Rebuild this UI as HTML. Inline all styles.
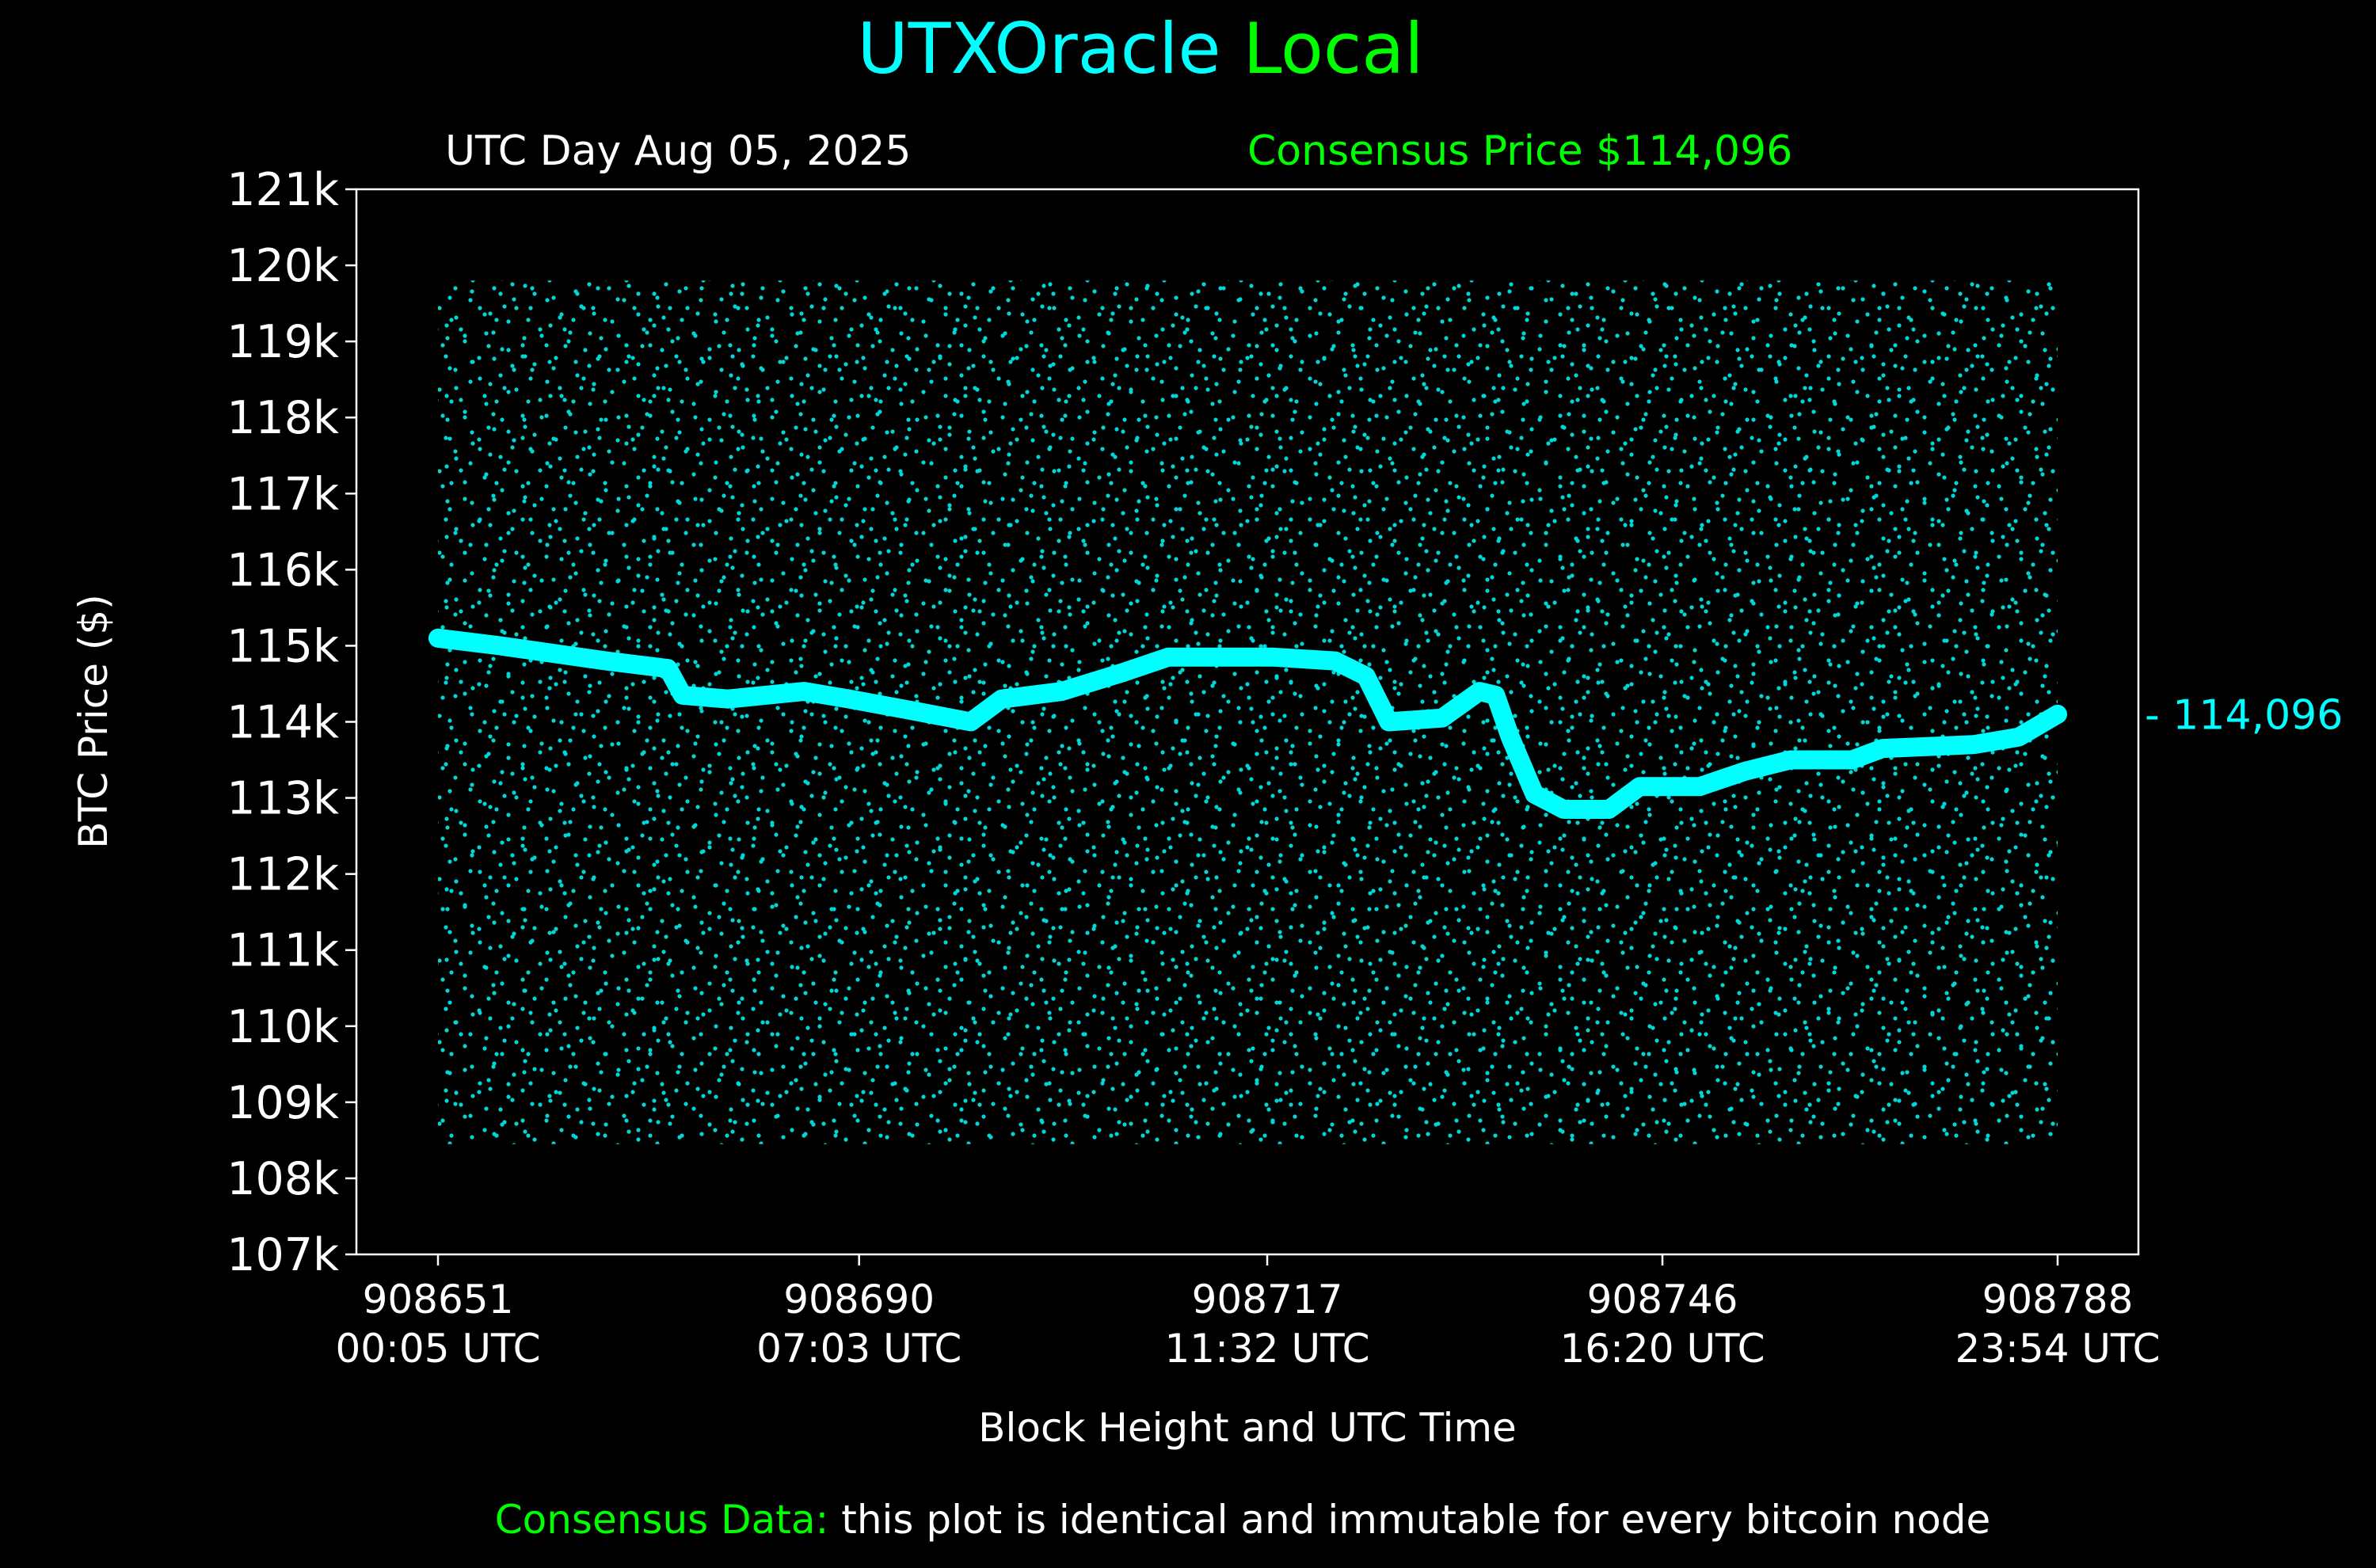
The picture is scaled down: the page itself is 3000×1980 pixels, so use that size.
<!DOCTYPE html>
<html><head><meta charset="utf-8"><style>
html,body{margin:0;padding:0;background:#000;}
svg{display:block;font-family:"DejaVu Sans","Liberation Sans",sans-serif;}
</style></head><body>
<svg id="chart" width="3000" height="1980" viewBox="0 0 3000 1980" xmlns="http://www.w3.org/2000/svg">
<defs>
<pattern id="dotsA" width="97" height="103" patternUnits="userSpaceOnUse">
<g fill="#00d8d8">
<circle cx="5" cy="12" r="2.6"/><circle cx="23" cy="40" r="2.6"/><circle cx="41" cy="8" r="2.6"/><circle cx="60" cy="30" r="2.6"/><circle cx="80" cy="15" r="2.6"/><circle cx="90" cy="55" r="2.6"/><circle cx="12" cy="70" r="2.6"/><circle cx="30" cy="88" r="2.6"/><circle cx="50" cy="62" r="2.6"/><circle cx="70" cy="80" r="2.6"/><circle cx="85" cy="95" r="2.6"/><circle cx="15" cy="45" r="2.6"/><circle cx="45" cy="95" r="2.6"/><circle cx="65" cy="50" r="2.6"/><circle cx="35" cy="25" r="2.6"/><circle cx="78" cy="38" r="2.6"/><circle cx="55" cy="78" r="2.6"/>
</g></pattern>
<pattern id="dotsB" width="131" height="89" patternUnits="userSpaceOnUse">
<g fill="#00d8d8">
<circle cx="8" cy="5" r="2.6"/><circle cx="27" cy="60" r="2.6"/><circle cx="44" cy="20" r="2.6"/><circle cx="63" cy="75" r="2.6"/><circle cx="82" cy="33" r="2.6"/><circle cx="100" cy="8" r="2.6"/><circle cx="118" cy="50" r="2.6"/><circle cx="15" cy="33" r="2.6"/><circle cx="35" cy="80" r="2.6"/><circle cx="52" cy="45" r="2.6"/><circle cx="72" cy="12" r="2.6"/><circle cx="90" cy="65" r="2.6"/><circle cx="110" cy="85" r="2.6"/><circle cx="125" cy="22" r="2.6"/><circle cx="20" cy="15" r="2.6"/><circle cx="58" cy="60" r="2.6"/><circle cx="95" cy="40" r="2.6"/><circle cx="5" cy="80" r="2.6"/><circle cx="40" cy="55" r="2.6"/>
</g></pattern>
</defs>
<text x="1440" y="92" font-size="88" text-anchor="middle"><tspan fill="#00ffff">UTXOracle</tspan><tspan fill="#00ff00"> Local</tspan></text>
<text x="562" y="208" font-size="52" fill="#fff">UTC Day Aug 05, 2025</text>
<text x="1575" y="208" font-size="52" fill="#00ff00">Consensus Price $114,096</text>
<g id="plot"></g>
<text x="0" y="0" font-size="50" fill="#fff" text-anchor="middle" transform="translate(135,911) rotate(-90)">BTC Price ($)</text>
<text x="1575" y="1820" font-size="50" fill="#fff" text-anchor="middle">Block Height and UTC Time</text>
<text x="1569" y="1936" font-size="50" text-anchor="middle"><tspan fill="#00ff00">Consensus Data:</tspan><tspan fill="#fff"> this plot is identical and immutable for every bitcoin node</tspan></text>
</svg>
<script>
const yTicks = [107,108,109,110,111,112,113,114,115,116,117,118,119,120,121];
const xTickPos = [0, 26.0, 51.2, 75.6, 100];
const xTickBlocks = ["908651","908690","908717","908746","908788"];
const xTickTimes = ["00:05 UTC","07:03 UTC","11:32 UTC","16:20 UTC","23:54 UTC"];
const bandX = [0,3.8,10.4,14.2,15.1,17.9,22.6,25.4,29.2,32.9,34.8,38.5,42.3,45.1,47.9,51.6,55.4,57.3,58.7,62.0,64.3,65.3,66.2,67.7,69.5,72.3,74.2,77.9,80.7,83.5,87.3,89.2,94.8,97.6,100];
const bandY = [115.1,115.0,114.8,114.7,114.35,114.3,114.4,114.3,114.15,114.0,114.3,114.4,114.65,114.85,114.85,114.85,114.8,114.6,114.0,114.05,114.4,114.35,113.8,113.05,112.85,112.85,113.15,113.15,113.35,113.5,113.5,113.65,113.7,113.8,114.1];
const consensus = 114.096;
const scatterMin = 108.45, scatterMax = 119.8;

const NS = "http://www.w3.org/2000/svg";
const L=450, R=2700, T=239, B=1584;
const X0=553, X1=2598;
const sx = v => X0 + (v/100)*(X1-X0);
const sy = v => B - (v-107)/(121-107)*(B-T);
const plot = document.getElementById('plot');
function mk(tag, attrs, parent){const e=document.createElementNS(NS,tag);for(const k in attrs)e.setAttribute(k,attrs[k]);(parent||plot).appendChild(e);return e;}

// scatter texture
const sa = mk('rect',{x:X0,y:sy(scatterMax),width:X1-X0,height:sy(scatterMin)-sy(scatterMax),fill:'url(#dotsA)'});


const sb = mk('rect',{x:X0,y:sy(scatterMax),width:X1-X0,height:sy(scatterMin)-sy(scatterMax),fill:'url(#dotsB)'});



// price band
let d = bandX.map((v,i)=>(i?'L':'M')+sx(v).toFixed(1)+','+sy(bandY[i]).toFixed(1)).join(' ');
const band = mk('path',{d:d,fill:'none',stroke:'#00ffff','stroke-width':24,'stroke-linejoin':'round','stroke-linecap':'round'});



// frame
const fr = mk('rect',{x:L,y:T,width:R-L,height:B-T,fill:'none',stroke:'#fff','stroke-width':2.5});



yTicks.forEach(v=>{
  const y=sy(v);
  const t = mk('line',{x1:L-14,x2:L,y1:y,y2:y,stroke:'#fff','stroke-width':2.5});
  
  
  const tx = mk('text',{x:L-22,y:y+20,'font-size':57,fill:'#fff','text-anchor':'end'});
  tx.textContent = v+'k';
  
  
});
xTickPos.forEach((v,i)=>{
  const x=sx(v);
  const t = mk('line',{x1:x,x2:x,y1:B,y2:B+14,stroke:'#fff','stroke-width':2.5});
  
  
  const tx = mk('text',{x:x,y:1658,'font-size':50,fill:'#fff','text-anchor':'middle'});
  tx.textContent = xTickBlocks[i];
  
  
  const tt = mk('text',{x:x,y:1720,'font-size':50,fill:'#fff','text-anchor':'middle'});
  tt.textContent = xTickTimes[i];
  
  
});
const cl = mk('text',{x:R+8,y:sy(consensus)+18,'font-size':52,fill:'#00ffff'});
cl.textContent = '- ' + Math.round(consensus*1000).toLocaleString('en-US');


</script>
</body></html>
